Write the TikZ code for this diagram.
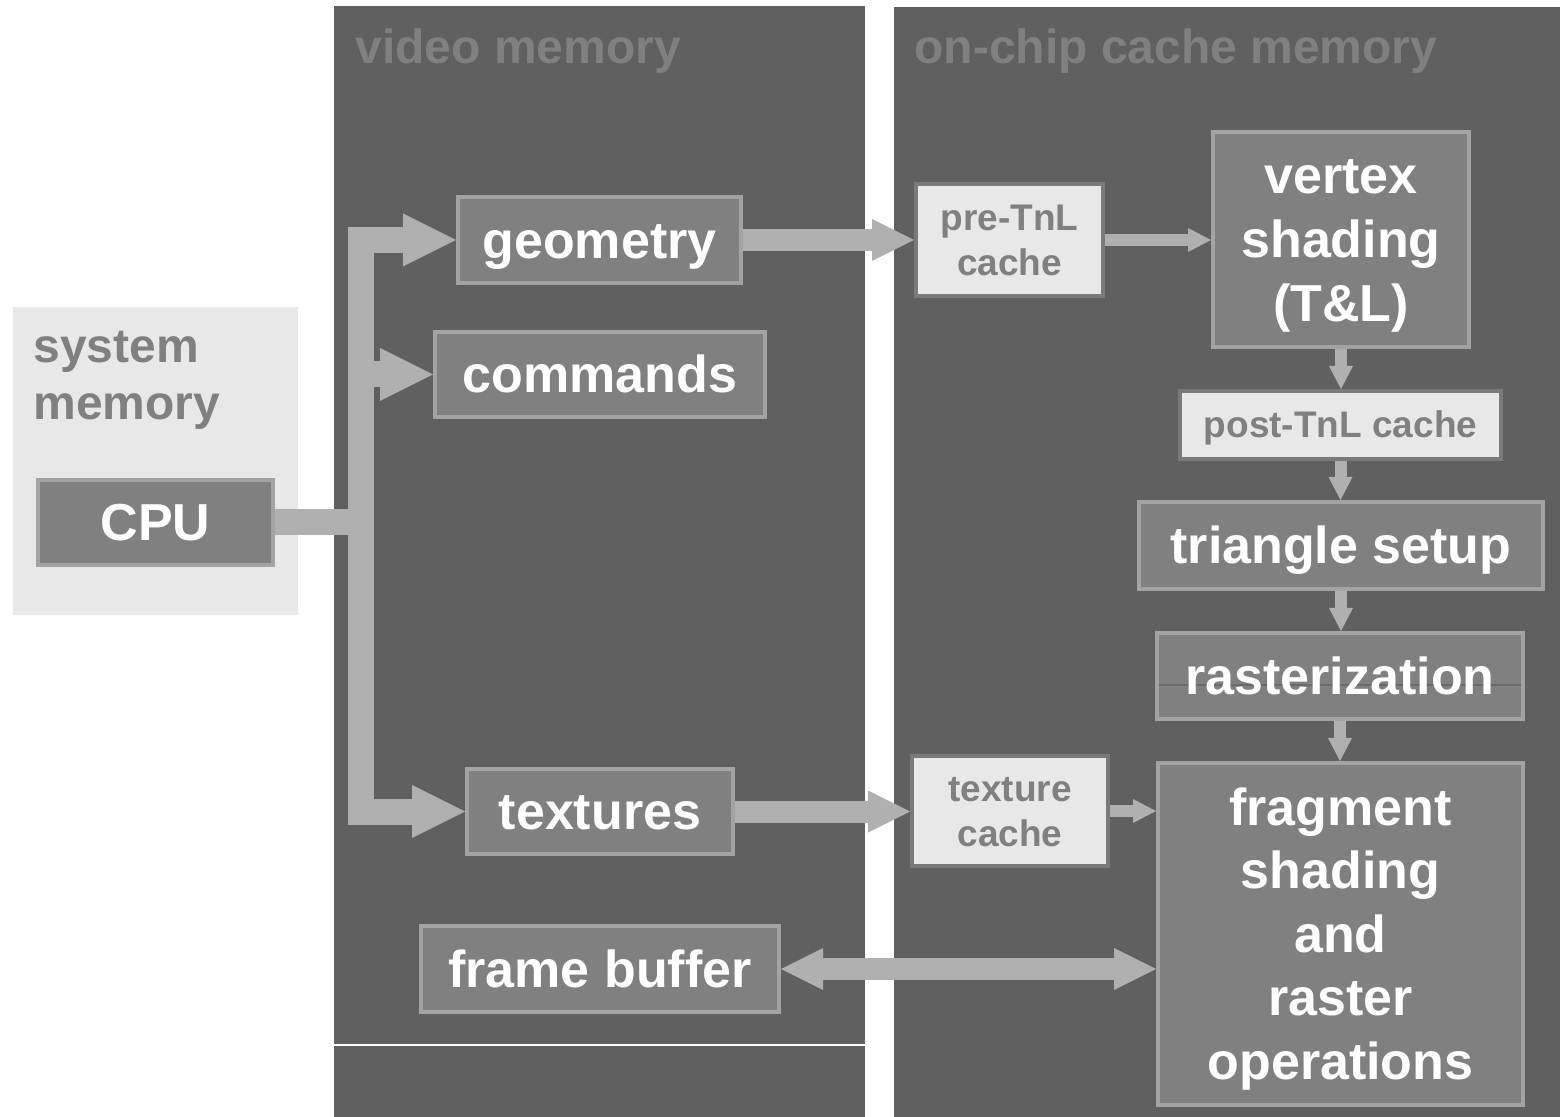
\documentclass[tikz,border=0pt]{standalone}
\usepackage{fontspec}
\setmainfont{Liberation Sans}
\usetikzlibrary{arrows.meta}

\definecolor{panelc}{HTML}{606060}
\definecolor{boxc}{HTML}{808080}
\definecolor{boxline}{HTML}{A3A3A3}
\definecolor{lightc}{HTML}{E8E8E8}
\definecolor{lightline}{HTML}{7A7A7A}
\definecolor{labelgray}{HTML}{808080}
\definecolor{arrowc}{HTML}{B0B0B0}
\definecolor{seamc}{HTML}{6A6A6A}

% line strut with the font's full ascent and descent, so that each label
% is centred on its line box
\newcommand\lbox{\rule[-0.212em]{0pt}{1.117em}}

\begin{document}
\begin{tikzpicture}[x=0.5pt,y=-0.5pt,
  darkbox/.style={fill=boxc, draw=boxline, line width=2pt, text=white,
    inner sep=0pt, align=center,
    font=\bfseries\fontsize{26}{32}\selectfont},
  lightbox/.style={fill=lightc, draw=lightline, line width=2pt, text=labelgray,
    inner sep=0pt, align=center,
    font=\bfseries\fontsize{18.5}{22.5}\selectfont},
  paneltitle/.style={text=labelgray, inner sep=0pt, anchor=base west,
    font=\bfseries\fontsize{24}{28.5}\selectfont},
  bus/.style={draw=arrowc, line width=13pt},
  bushead/.tip={Triangle[length=26.5pt,width=26.5pt,line width=0pt]},
  midflow/.style={draw=arrowc, line width=11pt},
  midhead/.tip={Triangle[length=21pt,width=21pt,line width=0pt]},
  thinflow/.style={draw=arrowc, line width=6pt},
  thinhead/.tip={Triangle[length=11.5pt,width=12pt,line width=0pt]},
]
% page and memory regions
\useasboundingbox (0,0) rectangle (1560,1117);
\fill[white] (0,0) rectangle (1560,1117);
\fill[lightc] (13,307) rectangle (298,615);
\fill[panelc] (334,6) rectangle (865,1117);
\fill[panelc] (894,7) rectangle (1560,1117);
\draw[white, line width=0.8pt] (334,1045) -- (865,1045);

% region titles
\node[paneltitle] (vmtitle) at (355,64) {video memory};
\node[paneltitle] (octitle) at (914,64) {on-chip cache memory};
\node[paneltitle, align=left] (smtitle) at (33,420) {system\\memory};

% system memory
\node[darkbox, minimum width=117.5pt, minimum height=42.5pt] (cpu) at (155.5,522.5) {\lbox CPU};

% video memory
\node[darkbox, minimum width=141.5pt, minimum height=43pt] (geometry) at (599.5,240) {\lbox geometry};
\node[darkbox, minimum width=165pt, minimum height=42.5pt] (commands) at (600,374.5) {\lbox commands};
\node[darkbox, minimum width=133pt, minimum height=42.5pt] (textures) at (600,811.5) {\lbox textures};
\node[darkbox, minimum width=179pt, minimum height=43pt] (framebuffer) at (600,969) {\lbox frame buffer};

% on-chip caches and pipeline stages
\node[lightbox, minimum width=93.5pt, minimum height=56pt] (pretnl) at (1009.5,240)
  {\lbox pre-TnL\\\lbox cache};
\node[lightbox, minimum width=98pt, minimum height=55pt] (texcache) at (1010,811)
  {\lbox texture\\\lbox cache};
\node[darkbox, minimum width=128pt, minimum height=107.5pt] (vertex) at (1341,239.5)
  {\lbox vertex\\\lbox shading\\\lbox (T\&L)};
\node[lightbox, minimum width=160.5pt, minimum height=34pt] (posttnl) at (1340.5,425)
  {\lbox post-TnL cache};
\node[darkbox, minimum width=202pt, minimum height=43.5pt] (trisetup) at (1341,545.5)
  {\lbox triangle setup};
\node[darkbox, minimum width=183pt, minimum height=43pt,
  path picture={\draw[seamc, line width=0.6pt]
    ([yshift=-4.5pt]path picture bounding box.west) --
    ([yshift=-4.5pt]path picture bounding box.east);}] (raster) at (1340,676)
  {\lbox rasterization};
\node[darkbox, minimum width=182.5pt, minimum height=171pt,
  font=\bfseries\fontsize{26}{31.75}\selectfont] (fragment) at (1340.5,934)
  {\lbox fragment\\\lbox shading\\\lbox and\\\lbox raster\\\lbox operations};

% CPU bus into video memory
\coordinate (trunk) at (361,520);
\draw[bus] (cpu.east) -- (cpu.east -| trunk);
\draw[bus, bushead-bushead] (geometry.west) -- (geometry.west -| trunk)
  -- (textures.west -| trunk) -- (textures.west);
\draw[bus, -bushead] (commands.west -| trunk) -- (commands.west);

% video memory to on-chip caches
\draw[midflow, -midhead] (geometry.east) -- (pretnl.west);
\draw[midflow, -midhead] (textures.east) -- (textures.east -| texcache.west);
\draw[midflow, midhead-midhead] (framebuffer.east) -- (framebuffer.east -| fragment.west);

% pipeline
\draw[thinflow, -thinhead] (pretnl.east) -- (pretnl.east -| vertex.west);
\draw[thinflow, -thinhead] (vertex.south) -- (vertex.south |- posttnl.north);
\draw[thinflow, -thinhead] (posttnl.south) -- (posttnl.south |- trisetup.north);
\draw[thinflow, -thinhead] (trisetup.south) -- (trisetup.south |- raster.north);
\draw[thinflow, -thinhead] (raster.south) -- (raster.south |- fragment.north);
\draw[thinflow, -thinhead] (texcache.east) -- (texcache.east -| fragment.west);
\end{tikzpicture}
\end{document}
